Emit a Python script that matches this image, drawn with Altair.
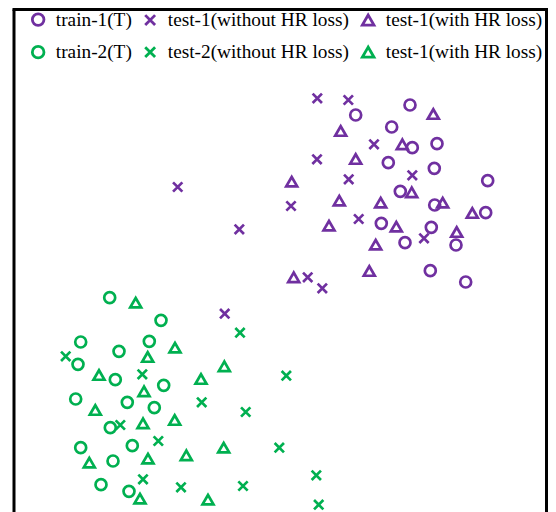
import altair as alt
import pandas as pd

# ---- categories / legend ----
groups = ["g1", "g2", "g3", "g4", "g5", "g6"]
labels = ["train-1(T)", "test-1(without HR loss)", "test-1(with HR loss)",
          "train-2(T)", "test-2(without HR loss)", "test-1(with HR loss)"]
PURPLE = "#7030A0"
GREEN = "#00B050"
colors = [PURPLE, PURPLE, PURPLE, GREEN, GREEN, GREEN]
X_PATH = "M-0.85,-0.85L0.85,0.85M-0.85,0.85L0.85,-0.85"
shapes = ["circle", X_PATH, "triangle-up", "circle", X_PATH, "triangle-up"]

# ---- embedding coordinates ----
g1_x = [410, 355.7, 391.7, 412.3, 437, 388.3, 434.3, 487.7, 400.3, 434.7, 485.7, 381.3, 431.3, 405, 456, 430.3, 465.7]
g1_y = [105, 115, 127, 147.7, 143.7, 162.7, 168.3, 180.7, 191.3, 205, 212.7, 223.3, 227.3, 242.7, 245, 270.7, 282]

g2_x = [317.3, 348.3, 374, 317, 348.7, 412.3, 291, 358.7, 424, 307.7, 322.3, 177.7, 239.3, 224.7]
g2_y = [98.3, 100, 144.3, 159.3, 179.3, 175.3, 206, 219, 238.3, 277.3, 288.3, 187, 229.3, 313.7]

g3_x = [433.3, 340.7, 402.3, 355.7, 291.7, 411.7, 339.3, 380.7, 442.7, 472.3, 329, 396.3, 456.7, 375.7, 369.3, 293.7]
g3_y = [114, 131, 144.3, 159, 181.7, 192.3, 200.7, 202.7, 202.7, 213, 225.7, 226.7, 232, 244.7, 271, 277.3]

g4_x = [109.7, 161, 80.7, 149.3, 119, 78, 115.3, 163.7, 75.7, 127.3, 154.3, 110.3, 132.3, 80.7, 113, 101, 129]
g4_y = [297.7, 320.3, 342, 341.3, 351.3, 364.3, 379.7, 385.3, 399, 402.3, 407.7, 427.7, 445.7, 447.7, 461, 484.7, 491.3]

g5_x = [240, 65.7, 142.3, 286.3, 201.7, 245.7, 120.3, 158.3, 279.3, 316.3, 143, 181, 243, 318.7]
g5_y = [332.7, 356.3, 374.3, 375.7, 402.3, 412, 425, 441, 447.7, 475.3, 479.3, 487.3, 486, 504.7]

g6_x = [135.7, 175, 147.7, 224.3, 99, 201, 144, 95.3, 174.7, 143, 223.7, 186.3, 148, 89.3, 140, 208]
g6_y = [302.7, 347.7, 357, 366.3, 375, 379, 391.3, 410, 420, 423.3, 447.7, 455.3, 458.7, 462.7, 498.7, 499.7]

xs = [g1_x, g2_x, g3_x, g4_x, g5_x, g6_x]
ys = [g1_y, g2_y, g3_y, g4_y, g5_y, g6_y]

rows = []
for g, gx, gy in zip(groups, xs, ys):
    for a, b in zip(gx, gy):
        rows.append({"x": a, "y": b, "group": g})
df = pd.DataFrame(rows)

W = 532.5
H = 502.5

label_expr = " : ".join(
    f"datum.value == '{g}' ? '{l}'" for g, l in zip(groups, labels)
) + " : ''"

points = alt.Chart(df).mark_point(filled=False, size=120, strokeWidth=2.7, opacity=1).encode(
    x=alt.X("x:Q", scale=alt.Scale(domain=[14, 14 + W], nice=False, zero=False), axis=None),
    y=alt.Y("y:Q", scale=alt.Scale(domain=[9.5, 9.5 + H], nice=False, zero=False, reverse=True), axis=None),
    color=alt.Color("group:N", scale=alt.Scale(domain=groups, range=colors),
                    legend=alt.Legend(labelExpr=label_expr, direction="horizontal")),
    shape=alt.Shape("group:N", scale=alt.Scale(domain=groups, range=shapes)),
)

one = pd.DataFrame({"k": [0]})
left = alt.Chart(one).mark_rule(color="black", strokeWidth=3).encode(
    x=alt.value(0), y=alt.value(0), y2=alt.value(H + 20))
top = alt.Chart(one).mark_rule(color="black", strokeWidth=3).encode(
    x=alt.value(-1.5), x2=alt.value(W + 1.5), y=alt.value(0))
right = alt.Chart(one).mark_rule(color="black", strokeWidth=3).encode(
    x=alt.value(W), y=alt.value(0), y2=alt.value(H + 20))

chart = alt.layer(points, left, top, right).properties(
    width=W, height=H,
    autosize=alt.AutoSizeParams(type="none"),
    padding={"left": 6, "top": 1.5, "right": 1.5, "bottom": 0},
).configure_view(stroke=None).configure_legend(
    orient="none", legendX=14.5, legendY=0, columns=3, direction="horizontal",
    title=None, padding=0, columnPadding=7, rowPadding=9,
    labelFont="Liberation Serif", labelFontSize=19.3, labelColor="black",
    labelOffset=8, symbolSize=135, symbolStrokeWidth=2.8, labelLimit=400,
)

chart.save("out.html", embed_options={"renderer": "svg", "actions": False})
